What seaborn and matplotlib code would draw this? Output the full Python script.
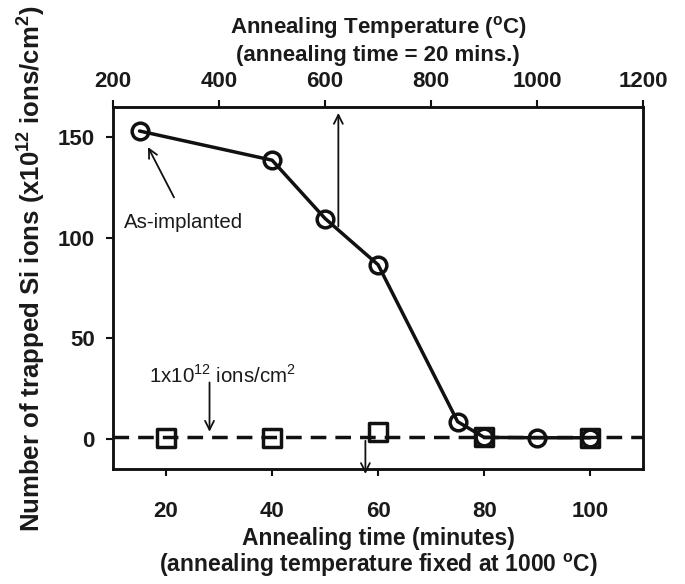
import matplotlib
matplotlib.use("Agg")
import matplotlib.pyplot as plt
import seaborn as sns
import pandas as pd

# Data
temperatures = [250, 500, 600, 700, 850, 900, 1000, 1100]
temp_trapped = [153, 138.5, 109.5, 86.5, 8.5, 0.7, 0.5, 0.5]
times = [20, 40, 60, 80, 100]
time_trapped = [0.5, 0.5, 3.5, 0.7, 0.5]
threshold = 1
bottom_ticks = [20, 40, 60, 80, 100]
top_ticks = [200, 400, 600, 800, 1000, 1200]
y_ticks = [0, 50, 100, 150]

sns.set_style("ticks")
plt.rcParams['font.family'] = ['Liberation Sans', 'DejaVu Sans']
plt.rcParams['mathtext.fontset'] = 'custom'
plt.rcParams['mathtext.rm'] = 'Liberation Sans'
plt.rcParams['mathtext.bf'] = 'Liberation Sans:bold'

TICK_FS = 16
LABEL_FS = 16.5

df_t = pd.DataFrame({"temp": temperatures, "val": temp_trapped})
df_m = pd.DataFrame({"time": times, "val": time_trapped})

fig = plt.figure(figsize=(6.85, 5.84), dpi=100)
ax = fig.add_axes([0.165, 0.197, 0.774, 0.620])
ax2 = ax.twiny()

# dashed threshold line
ax.axhline(threshold, color='#111111', lw=2.5, ls=(0, (4.5, 2.6)), zorder=1)

# squares (time series)
sns.scatterplot(data=df_m, x="time", y="val", marker='s', s=170,
                facecolor='none', edgecolor='#111111', linewidth=2.5, ax=ax, zorder=3)

# circles (temperature series)
sns.lineplot(data=df_t, x="temp", y="val", ax=ax2, color='#111111', lw=2.5,
             marker='o', markersize=12, markerfacecolor='none',
             markeredgecolor='#111111', markeredgewidth=2.5, zorder=4)

ax.set_xlim(10, 110)
ax.set_ylim(-15, 165)
ax2.set_xlim(200, 1200)
ax2.set_ylim(-15, 165)

ax.set_xticks(bottom_ticks)
ax.set_yticks(y_ticks)
ax2.set_xticks(top_ticks)

for a in (ax, ax2):
    for sp in a.spines.values():
        sp.set_linewidth(1.8)
        sp.set_color('#111111')
        sp.set_visible(True)
    a.tick_params(width=1.5, length=5, direction='out', colors='#111111')
    for lab in a.get_xticklabels() + a.get_yticklabels():
        lab.set_fontsize(TICK_FS)
        lab.set_fontweight('bold')
        lab.set_color('#1a1a1a')
ax.tick_params(axis='x', pad=18)
ax.tick_params(axis='y', pad=8)
ax2.tick_params(axis='x', pad=6)

ax.set_xlabel("Annealing time (minutes)\n(annealing temperature fixed at 1000 $^\\mathregular{o}$C)",
              fontsize=LABEL_FS, fontweight='bold', color='#1a1a1a', labelpad=4, linespacing=1.05)
ax2.set_xlabel("Annealing Temperature ($^\\mathregular{o}$C)\n(annealing time = 20 mins.)",
               fontsize=16, fontweight='bold', color='#1a1a1a', labelpad=7, linespacing=1.25)
ax.set_ylabel("Number of trapped Si ions (x10$^\\mathregular{12}$ ions/cm$^\\mathregular{2}$)",
              fontsize=18.5, fontweight='bold', color='#1a1a1a')
ax.yaxis.set_label_coords(-0.125, 0.552)
ax2.set_ylabel("")

aprops = dict(arrowstyle='->', lw=1.3, color='#111111', mutation_scale=16, shrinkA=0, shrinkB=0)

# As-implanted annotation
ax.annotate("", xy=(16.6, 145), xytext=(21.5, 120), arrowprops=aprops)
ax.text(12.1, 107.5, "As-implanted", fontsize=14.7, va='center', ha='left', color='#1a1a1a')

# vertical up arrow toward top axis
ax.annotate("", xy=(52.5, 162), xytext=(52.5, 105.5), arrowprops=aprops)

# down arrow toward bottom axis
ax.annotate("", xy=(57.6, -17.5), xytext=(57.6, -1), arrowprops=aprops, annotation_clip=False)

# threshold annotation
ax.annotate("", xy=(28.2, 3.5), xytext=(28.2, 28), arrowprops=aprops)
ax.text(16.8, 28, "1x10$^\\mathregular{12}$ ions/cm$^\\mathregular{2}$", fontsize=14.8,
        va='baseline', ha='left', color='#1a1a1a')

fig.savefig("out.png", dpi=100)
